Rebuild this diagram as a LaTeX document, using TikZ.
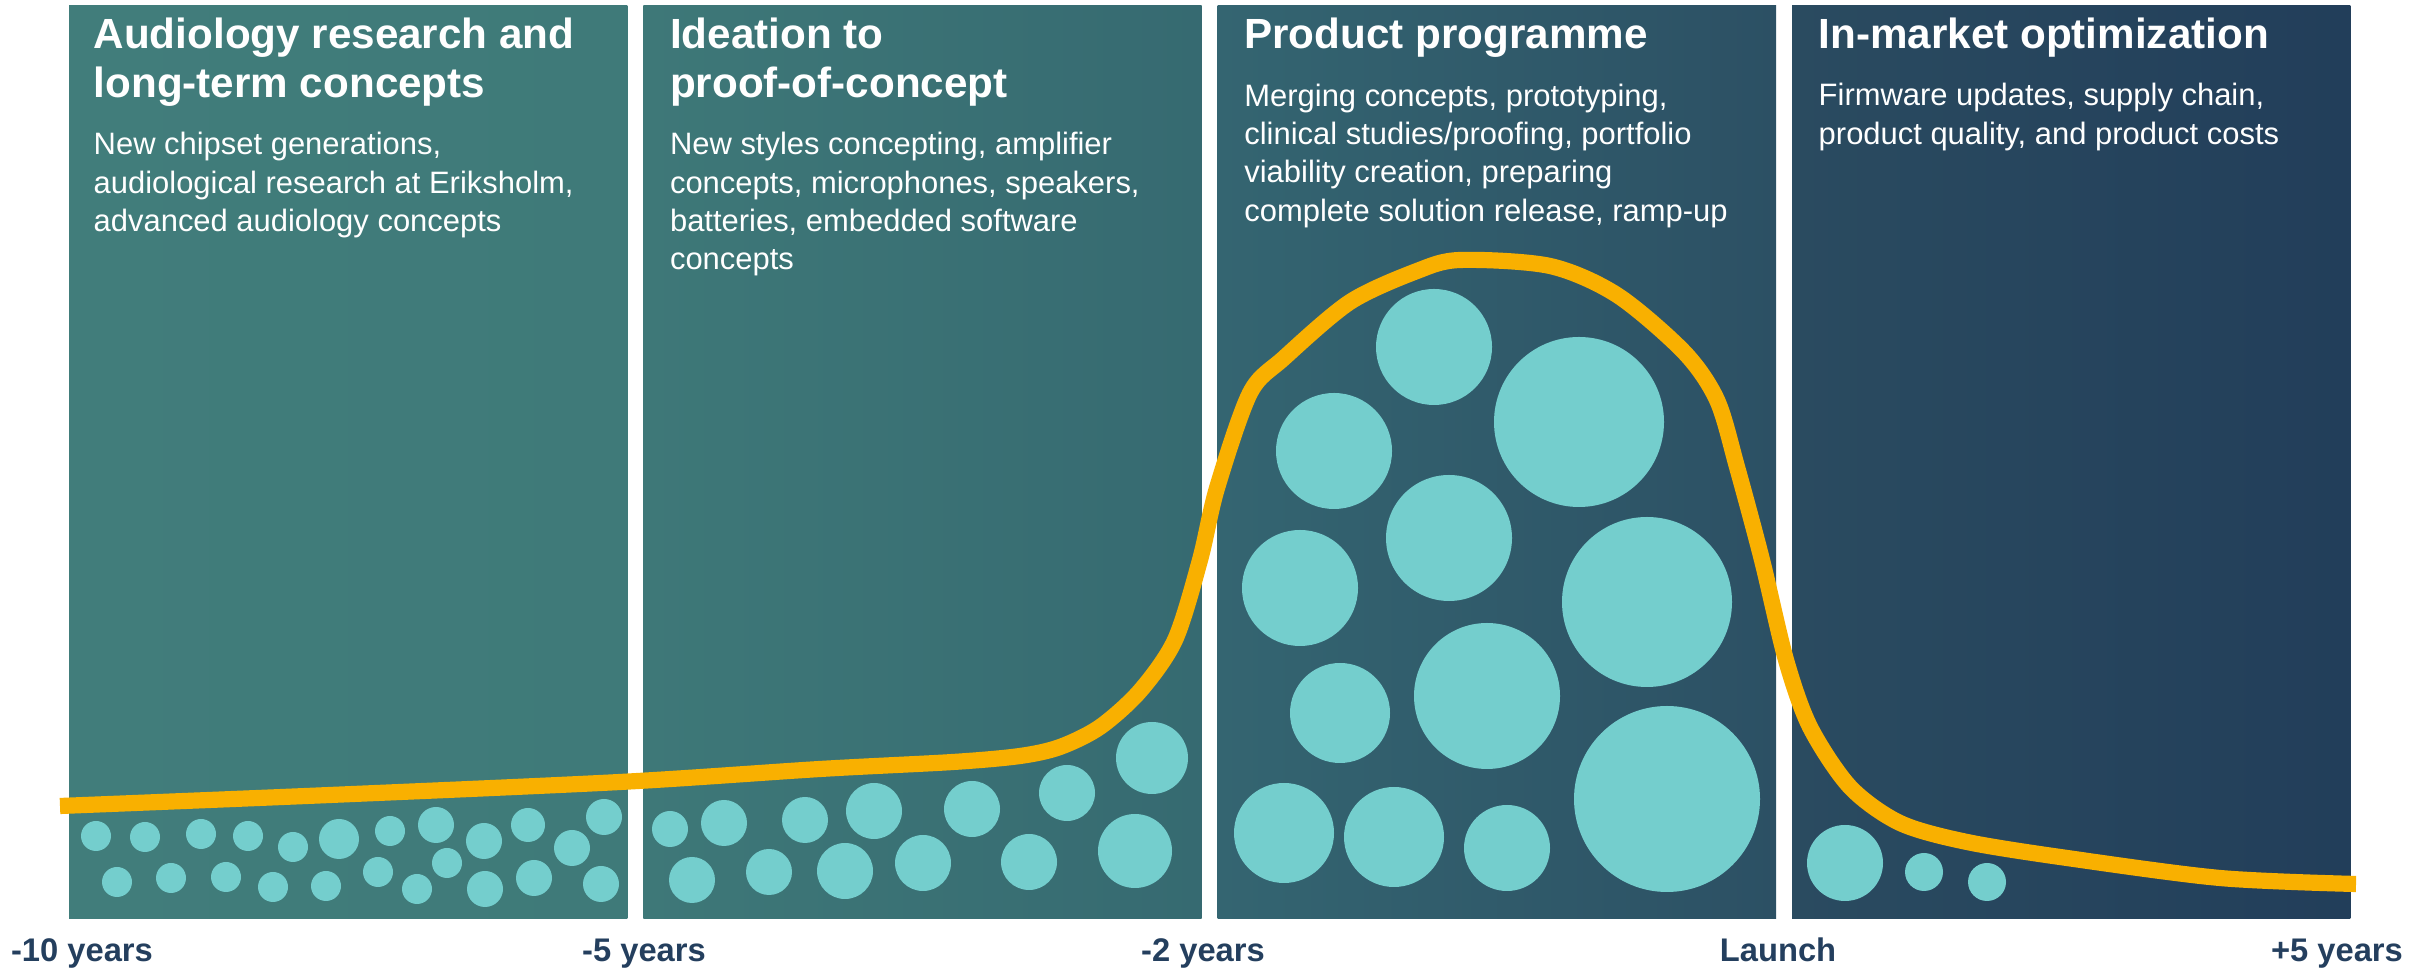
\documentclass[tikz,border=0pt]{standalone}
\usepackage{fontspec}
\setmainfont{Liberation Sans}
\usetikzlibrary{positioning}
\definecolor{pnlAl}{HTML}{417D7B}
\definecolor{pnlAr}{HTML}{3F7A79}
\definecolor{pnlBl}{HTML}{3E7878}
\definecolor{pnlBr}{HTML}{366A71}
\definecolor{pnlCl}{HTML}{346571}
\definecolor{pnlCr}{HTML}{2C5064}
\definecolor{pnlDl}{HTML}{2A4B60}
\definecolor{pnlDr}{HTML}{223E5A}
\definecolor{bubbleteal}{HTML}{74CECD}
\definecolor{trendgold}{HTML}{F9B000}
\definecolor{yearnavy}{HTML}{243F5E}

\begin{document}
\begin{tikzpicture}[
  x=0.01cm, y=-0.01cm,
  panel/.style={rectangle, inner sep=0pt, outer sep=0pt,
                minimum width=5.58cm, minimum height=9.12cm},
  ttl/.style={inner sep=0pt, align=left, text=white,
              font=\fontsize{12}{13.9}\selectfont\bfseries},
  txt/.style={inner sep=0pt, align=left, text=white,
              font=\fontsize{8.8}{10.9}\selectfont},
  bubble/.style={fill=bubbleteal},
  trend/.style={draw=trendgold, line width=4.6pt},
  yearlbl/.style={anchor=base, inner sep=0pt, text=yearnavy,
                  font=\fontsize{9.3}{11}\selectfont\bfseries}
]
  \useasboundingbox (0,0) rectangle (2430,968);

  % Phase panels
  \node[panel, anchor=north west, left color=pnlAl, right color=pnlAr] (research) at (69,6) {};
  \node[panel, right=0.16cm of research, left color=pnlBl, right color=pnlBr] (ideation) {};
  \node[panel, right=0.16cm of ideation, left color=pnlCl, right color=pnlCr] (programme) {};
  \node[panel, right=0.16cm of programme, left color=pnlDl, right color=pnlDr] (market) {};

  % Bubbles: many small ideas early, few big projects later
  \foreach \cx/\cy/\r in {96/836/15, 145/837/15, 201/834/15, 248/836/15, 293/847/15,
      339/839/20, 390/831/15, 436/825/18, 484/841/18, 528/825/17, 572/848/18, 604/817/18,
      117/882/15, 171/878/15, 226/877/15, 273/887/15, 326/886/15, 378/872/15,
      417/889/15, 447/863/15, 485/889/18, 534/878/18, 601/884/18}
    \fill[bubble] (\cx,\cy) circle (\r);
  \foreach \cx/\cy/\r in {670/829/18, 724/823/23, 805/820/23, 874/811/28, 972/809/28,
      1067/793/28, 1152/758/36, 692/880/23, 769/872/23, 845/871/28, 923/863/28,
      1029/862/28, 1135/851/37}
    \fill[bubble] (\cx,\cy) circle (\r);
  \foreach \cx/\cy/\r in {1434/347/58, 1334/451/58, 1579/422/85, 1449/538/63,
      1647/602/85, 1300/588/58, 1340/713/50, 1487/696/73, 1667/799/93,
      1284/833/50, 1394/837/50, 1507/848/43}
    \fill[bubble] (\cx,\cy) circle (\r);
  \foreach \cx/\cy/\r in {1845/863/38, 1924/872/19, 1987/882/19}
    \fill[bubble] (\cx,\cy) circle (\r);

  % Effort curve
  \draw[trend] plot[smooth, tension=0.5] coordinates {
    (60,806) (330,795) (620,782) (820,769) (953,762) (1020,756) (1060,747)
    (1100,727) (1140,691) (1175,640) (1200,560) (1217,488) (1250,393)
    (1284,358) (1350,302) (1417,271) (1460,260) (1550,266) (1617,295)
    (1684,352) (1717,400) (1737,467) (1762,560) (1786,660) (1810,727)
    (1850,787) (1900,823) (1967,842) (2067,858) (2220,878) (2356,884)};

  % Titles and descriptions
  \node[ttl, below right=0.11cm and 0.24cm of research.north west] (researchttl)
    {Audiology research and\\long-term concepts};
  \node[txt, below=0.25cm of researchttl.south west, anchor=north west] (researchtxt)
    {New chipset generations,\\audiological research at Eriksholm,\\advanced audiology concepts};
  \node[ttl, below right=0.11cm and 0.26cm of ideation.north west] (ideationttl)
    {Ideation to\\proof-of-concept};
  \node[txt, below=0.25cm of ideationttl.south west, anchor=north west] (ideationtxt)
    {New styles concepting, amplifier\\concepts, microphones, speakers,\\batteries, embedded software\\concepts};
  \node[ttl, below right=0.11cm and 0.26cm of programme.north west] (programmettl)
    {Product programme};
  \node[txt, below=0.25cm of programmettl.south west, anchor=north west] (programmetxt)
    {Merging concepts, prototyping,\\clinical studies/proofing, portfolio\\viability creation, preparing\\complete solution release, ramp-up};
  \node[ttl, below right=0.11cm and 0.26cm of market.north west] (marketttl)
    {In-market optimization};
  \node[txt, below=0.25cm of marketttl.south west, anchor=north west] (markettxt)
    {Firmware updates, supply chain,\\product quality, and product costs};

  % Time axis
  \node[yearlbl] (yrten) at (82,962) {-10 years};
  \node[yearlbl] (yrfive) at (644,962) {-5 years};
  \node[yearlbl] (yrtwo) at (1203,962) {-2 years};
  \node[yearlbl] (yrlaunch) at (1778,962) {Launch};
  \node[yearlbl] (yrplus) at (2337,962) {+5 years};
\end{tikzpicture}
\end{document}
